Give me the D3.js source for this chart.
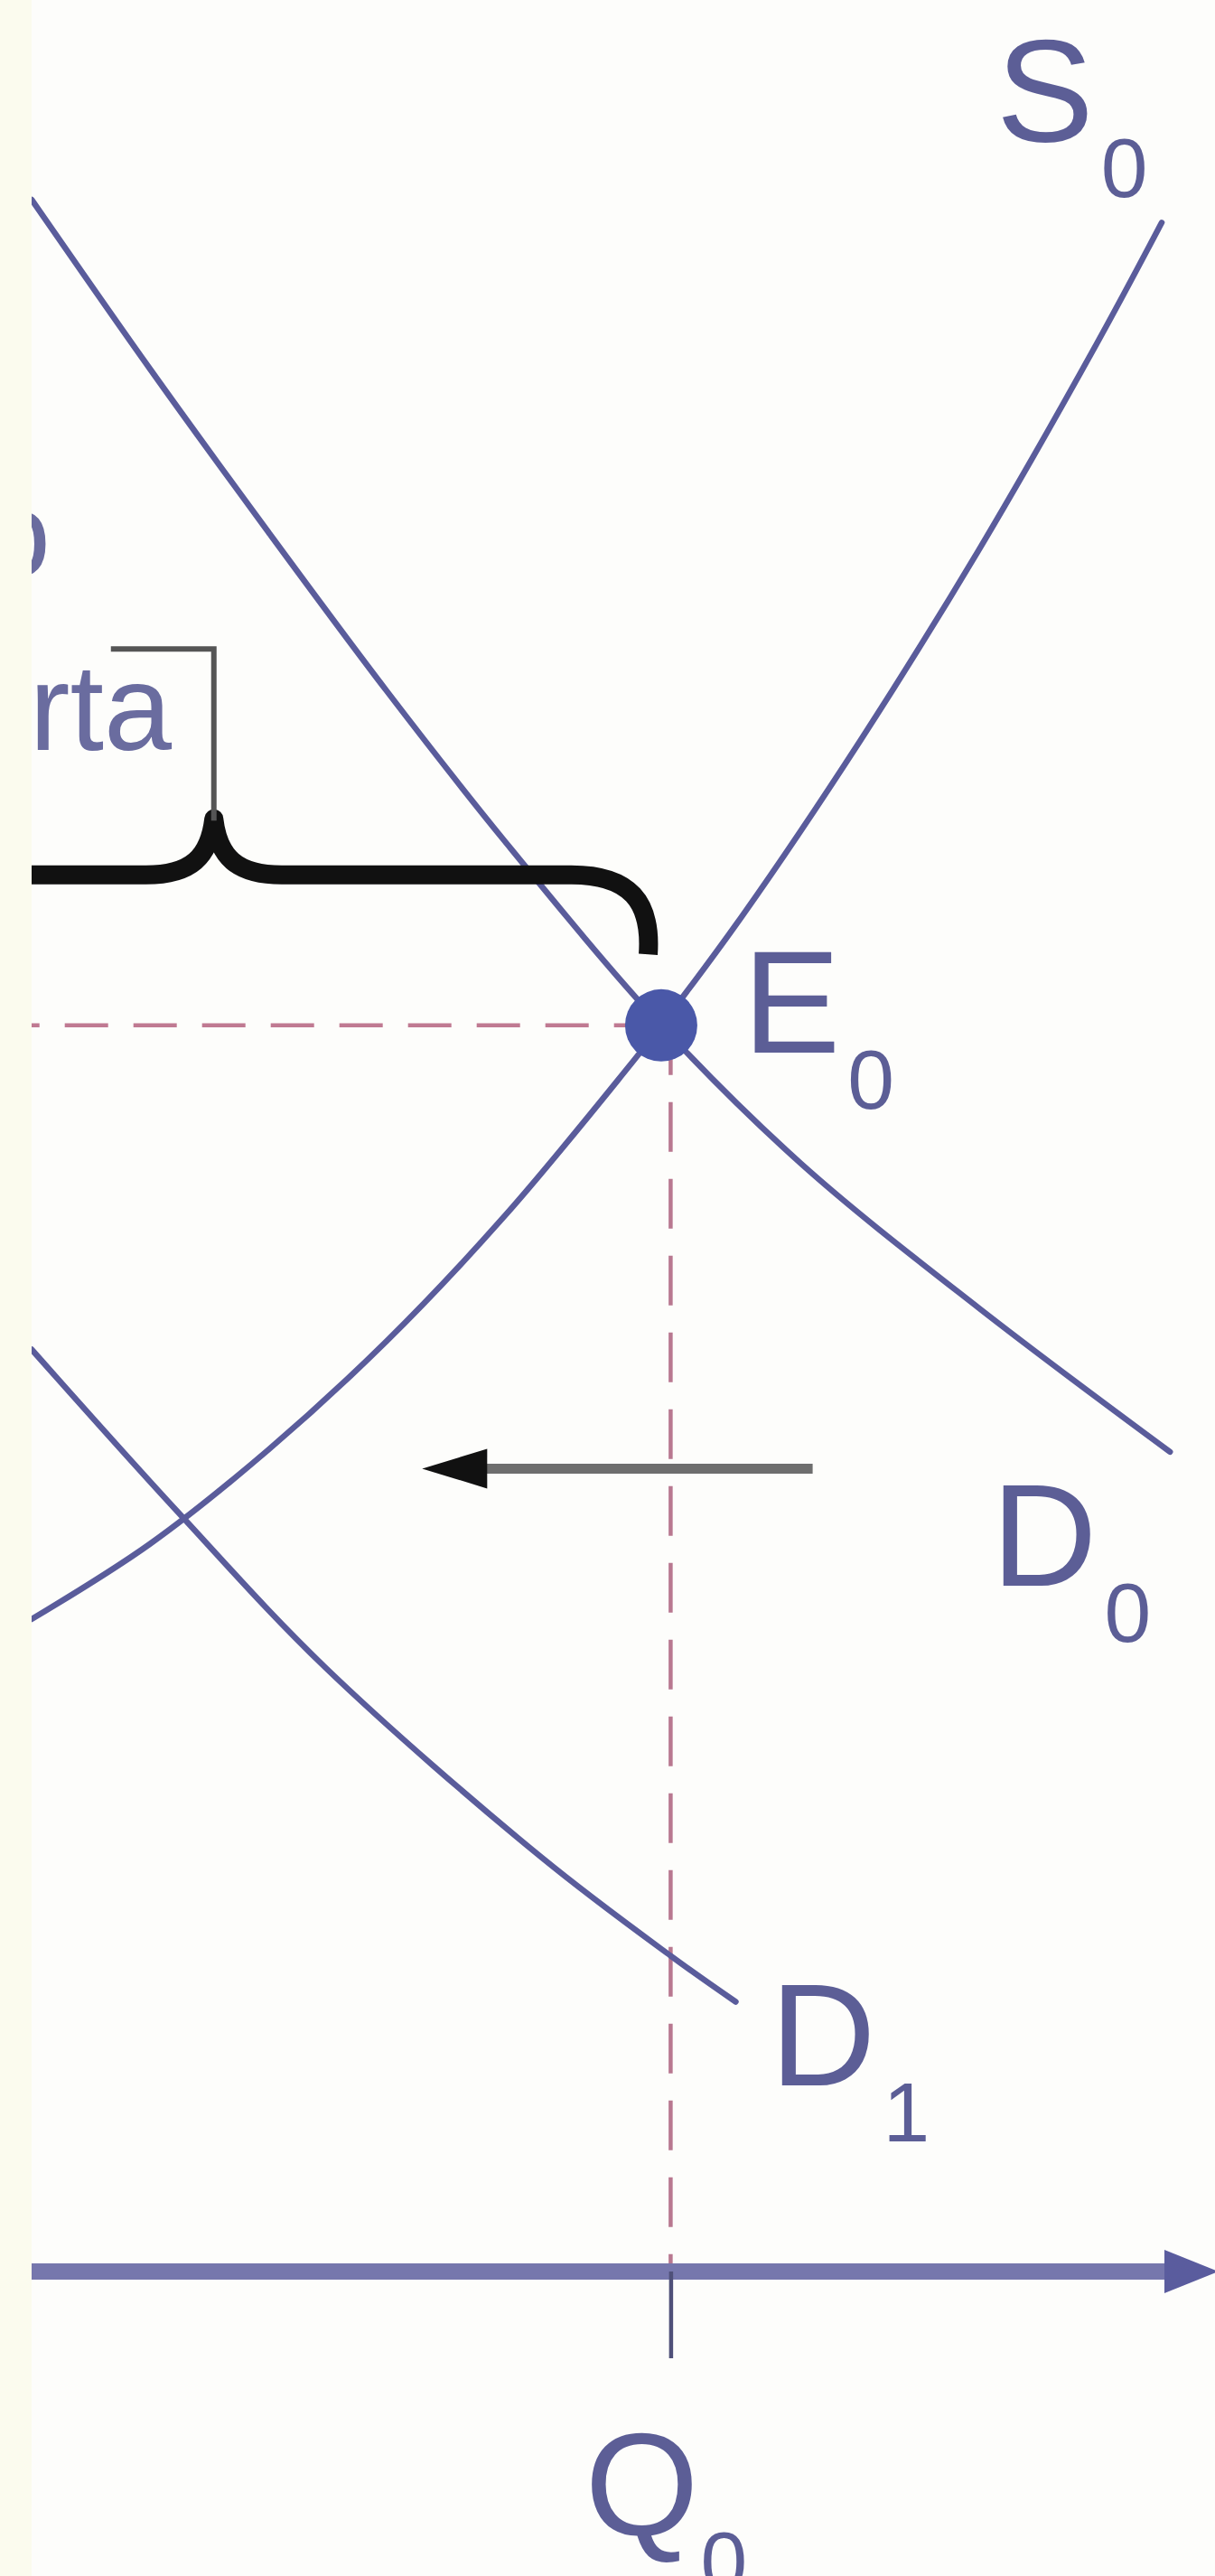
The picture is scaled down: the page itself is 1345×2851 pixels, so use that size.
<!DOCTYPE html>
<html>
<head>
<meta charset="utf-8">
<script src="https://cdn.jsdelivr.net/npm/d3@7"></script>
<style>
  body { margin: 0; background: #fdfdfb; }
  svg { display: block; }
</style>
</head>
<body>
<svg id="chart"></svg>
<script>
// curves, in (quantity, price) units
const supplyS0 = [[0, 31.2], [10, 34.8], [20, 39.3], [30, 44.5], [40, 50.5], [50, 57.3],
  [53.2, 59.6], [60, 64.8], [70, 73.2], [80, 82.3], [90, 92.2], [95.5, 98.0]];
const demandD0 = [[0, 99.1], [10, 91.0], [20, 83.2], [30, 75.6], [40, 68.4], [53.2, 59.6],
  [65, 53.0], [80, 46.1], [96.2, 39.2]];
const demandD1 = [[0, 44.1], [12.4, 36.3], [24.8, 28.9], [43.1, 19.8], [54.0, 15.1], [59.5, 12.9]];

const equilibrium = { q: 53.2, p: 59.6 };
const qTicks = [54.0];
const shiftArrow = { from: 66.0, to: 33.0, p: 38.4 };

const labels = [
  { main: "S", sub: "0", q: 81.5, p: 101.9 },
  { main: "E", sub: "0", q: 60.1, p: 58.3 },
  { main: "D", sub: "0", q: 81.1, p: 32.8 },
  { main: "D", sub: "1", q: 62.4, p: 8.9 }
];

const width = 1345, height = 2851;
const plotLeft = 35;
const curveColor = "#5a5c9b";
const textColor = "#5c5e96";

const svg = d3.select("#chart").attr("width", width).attr("height", height);

const x = d3.scaleLinear().domain([0, 100]).range([plotLeft, width]);
const y = d3.scaleLinear().domain([0, 100]).range([2514, 200]);

svg.append("rect").attr("width", width).attr("height", height).attr("fill", "#fdfdfb");

const g = svg.append("g");

// dashed guide lines to the equilibrium
g.append("line")
  .attr("x1", x(-3)).attr("x2", x(equilibrium.q))
  .attr("y1", y(equilibrium.p)).attr("y2", y(equilibrium.p))
  .attr("stroke", "#c07a92").attr("stroke-width", 4.5)
  .attr("stroke-dasharray", "48 28");

g.append("line")
  .attr("x1", x(qTicks[0])).attr("x2", x(qTicks[0]))
  .attr("y1", y(equilibrium.p)).attr("y2", y(0))
  .attr("stroke", "#b87890").attr("stroke-width", 4.5)
  .attr("stroke-dasharray", "55 30");

// quantity axis
const axis = g.append("g")
  .attr("transform", "translate(0," + y(0) + ")")
  .call(d3.axisBottom(x).tickValues(qTicks).tickSize(96).tickSizeOuter(0).tickFormat(() => ""));
axis.select(".domain")
  .attr("d", "M" + x(-3) + ",0H" + (width - 50))
  .attr("stroke", "#7677ad").attr("stroke-width", 18);
axis.selectAll(".tick line").attr("stroke", "#4f5079").attr("stroke-width", 4.5);

g.append("path")
  .attr("d", "M" + (width - 56) + "," + (y(0) - 24) + "L" + (width + 4) + "," + y(0) +
    "L" + (width - 56) + "," + (y(0) + 24) + "Z")
  .attr("fill", "#5a5c9e");

// curves
const line = d3.line().x(d => x(d[0])).y(d => y(d[1])).curve(d3.curveCatmullRom);

[supplyS0, demandD0, demandD1].forEach(data => {
  g.append("path")
    .datum(data)
    .attr("fill", "none")
    .attr("stroke", curveColor)
    .attr("stroke-width", 6.5)
    .attr("stroke-linecap", "round")
    .attr("d", line);
});

// equilibrium point
g.append("circle")
  .attr("cx", x(equilibrium.q))
  .attr("cy", y(equilibrium.p))
  .attr("r", 40)
  .attr("fill", "#4a58a8");

// shift arrow (demand moves left)
const ay = y(shiftArrow.p);
g.append("line")
  .attr("x1", x(shiftArrow.from)).attr("x2", x(shiftArrow.to) + 60)
  .attr("y1", ay).attr("y2", ay)
  .attr("stroke", "#6e6e6e").attr("stroke-width", 11);
g.append("path")
  .attr("d", "M" + x(shiftArrow.to) + "," + ay + "L" + (x(shiftArrow.to) + 72) + "," + (ay - 22) +
    "L" + (x(shiftArrow.to) + 72) + "," + (ay + 22) + "Z")
  .attr("fill", "#111");

// curly brace over the excess
const braceY = y(66.8);
const peakX = x(15.4);
const tipX = x(52.1), tipY = y(63.0);
const brace = d3.path();
brace.moveTo(-10, braceY);
brace.lineTo(peakX - 75, braceY);
brace.bezierCurveTo(peakX - 25, braceY, peakX - 5, braceY - 20, peakX, braceY - 62);
brace.bezierCurveTo(peakX + 5, braceY - 20, peakX + 25, braceY, peakX + 75, braceY);
brace.lineTo(tipX - 85, braceY);
brace.bezierCurveTo(tipX - 20, braceY, tipX + 4, braceY + 30, tipX, tipY);
g.append("path")
  .attr("d", brace.toString())
  .attr("fill", "none")
  .attr("stroke", "#111")
  .attr("stroke-width", 21)
  .attr("stroke-linejoin", "round");

// bracket from the text to the brace
g.append("path")
  .attr("d", "M" + x(6.7) + "," + y(77.6) + "H" + peakX + "V" + (braceY - 60))
  .attr("fill", "none")
  .attr("stroke", "#555")
  .attr("stroke-width", 6);

// annotation text, cut by the left strip
const note = g.append("text")
  .attr("text-anchor", "end")
  .attr("font-family", "Liberation Sans, Arial, sans-serif")
  .attr("font-size", 135)
  .attr("fill", "#6a6c9f");
note.append("tspan").attr("x", 56).attr("y", 638).text("Exceso");
note.append("tspan").attr("x", 190).attr("y", 830).text("oferta");

// curve labels
const lab = g.selectAll(".lab")
  .data(labels)
  .enter()
  .append("text")
  .attr("class", "lab")
  .attr("x", d => x(d.q))
  .attr("y", d => y(d.p))
  .attr("font-family", "Liberation Sans, Arial, sans-serif")
  .attr("font-size", 162)
  .attr("fill", textColor);
lab.append("tspan").text(d => d.main);
lab.append("tspan")
  .attr("font-size", 93)
  .attr("dx", 8)
  .attr("dy", 62)
  .text(d => d.sub);

// quantity tick label
const ql = g.append("text")
  .attr("x", x(qTicks[0]) - 95)
  .attr("y", 2805)
  .attr("font-family", "Liberation Sans, Arial, sans-serif")
  .attr("font-size", 162)
  .attr("fill", textColor);
ql.append("tspan").text("Q");
ql.append("tspan").attr("font-size", 93).attr("dx", 2).attr("dy", 62).text("0");

// left page strip
svg.append("rect").attr("width", plotLeft).attr("height", height).attr("fill", "#fbfbee");
</script>
</body>
</html>
